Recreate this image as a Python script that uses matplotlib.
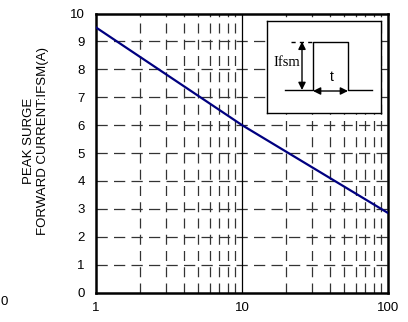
import numpy as np
import matplotlib.pyplot as plt

plt.rcParams['font.family'] = ['Liberation Sans', 'DejaVu Sans']

# surge current vs number of cycles
cycles = [1, 10, 100]
ifsm = [9.5, 6.0, 2.85]

x_ticks = [1, 10, 100]
x_tick_labels = ["1", "10", "100"]
y_ticks = list(range(0, 11))

W, H = 408, 322
fig = plt.figure(figsize=(W / 100, H / 100), dpi=100)

def px(x0, y0, x1, y1):
    # pixel box (top-left origin) -> figure fraction rect
    return [x0 / W, 1 - y1 / H, (x1 - x0) / W, (y1 - y0) / H]

ax = fig.add_axes(px(96, 13.5, 388, 292.5))
ax.set_xscale("log")
ax.set_xlim(1, 100)
ax.set_ylim(0, 10)

# grid
for y in y_ticks[1:-1]:
    ax.axhline(y, color="#333333", lw=0.9, ls=(0, (9, 5)), zorder=1)
for dec in [1, 10]:
    for m in range(2, 10):
        ax.axvline(dec * m, color="#333333", lw=0.9, ls=(0, (8, 5)), zorder=1)
ax.axvline(10, color="black", lw=0.9, zorder=1)

ax.plot(cycles, ifsm, color="#000080", lw=1.6, zorder=3)

ax.set_xticks(x_ticks)
ax.set_xticklabels(x_tick_labels)
ax.xaxis.set_minor_locator(plt.NullLocator())
ax.set_yticks(y_ticks)
ax.tick_params(axis="both", length=0, labelsize=9.5)
ax.tick_params(axis="x", pad=7)
ax.tick_params(axis="y", pad=8)
for s in ax.spines.values():
    s.set_linewidth(1.8)

fig.text(36 / W, 1 - 141 / H, "PEAK SURGE\nFORWARD CURRENT:IFSM(A)",
         rotation=90, ha="center", va="center", fontsize=9.5, linespacing=1.2)
fig.text(7.5 / W, 1 - 302 / H, "0", ha="right", va="center", fontsize=9.5)

# inset pulse sketch (drawn in pixel units)
ins = fig.add_axes(px(267, 20.7, 381.3, 113))
ins.set_xlim(267, 381.3)
ins.set_ylim(113, 20.7)
ins.set_xticks([])
ins.set_yticks([])
ins.set_facecolor("white")
ins.set_zorder(5)
for s in ins.spines.values():
    s.set_linewidth(1.0)

ins.plot([285, 313, 313, 348, 348, 372], [90, 90, 41.7, 41.7, 90, 90],
         color="black", lw=1.0)
ins.plot([291, 313], [41.7, 41.7], color="black", lw=1.0, ls=(0, (3, 3)))
ins.annotate("", xy=(302, 41.7), xytext=(302, 90),
             arrowprops=dict(arrowstyle="<|-|>", color="black", lw=1.0,
                             mutation_scale=11, shrinkA=0, shrinkB=0))
ins.annotate("", xy=(313, 91), xytext=(348, 91),
             arrowprops=dict(arrowstyle="<|-|>", color="black", lw=1.0,
                             mutation_scale=11, shrinkA=0, shrinkB=0))
ins.text(287, 62, "Ifsm", ha="center", va="center", fontsize=10.5,
         family=["Liberation Serif", "DejaVu Serif"])
ins.text(332, 77, "t", ha="center", va="center", fontsize=10)

fig.savefig("out.png", dpi=100)
